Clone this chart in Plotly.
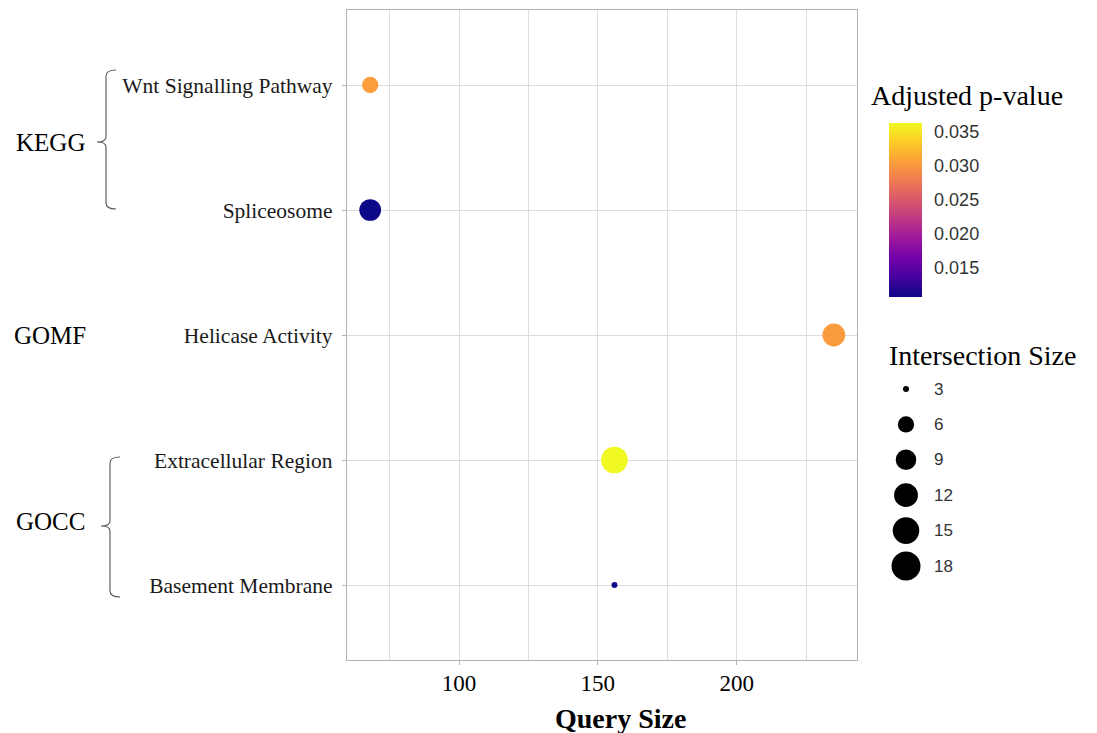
import numpy as np
import plotly.graph_objects as go

# ---- data -------------------------------------------------------------
terms = ["Wnt Signalling Pathway", "Spliceosome", "Helicase Activity",
         "Extracellular Region", "Basement Membrane"]
sources = ["KEGG", "KEGG", "GOMF", "GOCC", "GOCC"]
query_size = [68, 68, 235, 156, 156]
intersection_size = [6, 10, 11, 15, 3]
p_adjusted = [0.0305, 0.0106, 0.0303, 0.0363, 0.0107]

size_limits = [3, 18]
size_breaks = [3, 6, 9, 12, 15, 18]
p_ticks = [0.015, 0.020, 0.025, 0.030, 0.035]
x_ticks = [100, 150, 200]
x_minor = [75, 125, 175, 225]
group_labels = ["KEGG", "GOMF", "GOCC"]

# ---- page geometry (pixels, y downwards) ------------------------------
W, H = 1097, 733
P_LEFT, P_RIGHT, P_TOP, P_BOTTOM = 347, 857, 10, 660


def fx(px):
    return px / W


def fy(py):
    return 1 - py / H


SERIF = "Liberation Serif"
SANS = "Liberation Sans"
GRID = "#dcdcdc"
FRAME = "#b2b2b2"

# area-style size scale: diameter grows with sqrt of the rescaled count
D_MIN, D_SPAN = 6.0, 23.0


def diameter(n):
    t = (n - size_limits[0]) / (size_limits[1] - size_limits[0])
    return float(D_MIN + D_SPAN * np.sqrt(max(t, 0.0)))


x_lo, x_hi = min(query_size), max(query_size)
x_pad = 0.05 * (x_hi - x_lo)
p_lo, p_hi = min(p_adjusted), max(p_adjusted)

# colour bar box
CB_LEFT, CB_RIGHT, CB_TOP, CB_BOTTOM = 889, 922, 123, 297

fig = go.Figure()
fig.add_trace(go.Scatter(
    x=query_size,
    y=terms,
    mode="markers",
    marker=dict(
        size=[diameter(n) for n in intersection_size],
        color=p_adjusted,
        colorscale="Plasma",
        cmin=p_lo,
        cmax=p_hi,
        line=dict(width=0),
        opacity=1,
        showscale=True,
        colorbar=dict(
            x=fx(CB_LEFT), xanchor="left",
            y=fy((CB_TOP + CB_BOTTOM) / 2), yanchor="middle",
            lenmode="pixels", len=CB_BOTTOM - CB_TOP,
            thicknessmode="pixels", thickness=CB_RIGHT - CB_LEFT,
            xpad=0, ypad=0,
            outlinewidth=0,
            tickmode="array", tickvals=p_ticks,
            ticktext=[f"{v:.3f}" for v in p_ticks],
            ticks="outside", ticklen=9, tickwidth=1, tickcolor="rgba(0,0,0,0)",
            tickfont=dict(family=SANS, size=18, color="#333333"),
        ),
    ),
    hovertemplate="%{y}<br>Query size %{x}<extra></extra>",
    showlegend=False,
))

# white tick marks on both edges of the colour bar
shapes = []
for v in p_ticks:
    yy = CB_BOTTOM - (v - p_lo) / (p_hi - p_lo) * (CB_BOTTOM - CB_TOP)
    for a, b in [(CB_LEFT, CB_LEFT + 6), (CB_RIGHT - 6, CB_RIGHT)]:
        shapes.append(dict(type="line", xref="paper", yref="paper",
                           x0=fx(a), x1=fx(b), y0=fy(yy), y1=fy(yy),
                           line=dict(color="white", width=1.5), layer="above"))

# size legend keys
KEY_X, KEY_Y0, KEY_DY, LABEL_X = 906, 389, 35.4, 932
annotations = []
for i, n in enumerate(size_breaks):
    yy = KEY_Y0 + i * KEY_DY
    d = diameter(n)
    shapes.append(dict(type="circle", xref="paper", yref="paper",
                       xsizemode="pixel", ysizemode="pixel",
                       xanchor=fx(KEY_X), yanchor=fy(yy),
                       x0=-d / 2, x1=d / 2, y0=-d / 2, y1=d / 2,
                       fillcolor="black", line=dict(width=0)))
    annotations.append(dict(x=fx(LABEL_X), y=fy(yy), xref="paper", yref="paper",
                            text=str(n), showarrow=False, xanchor="left",
                            yanchor="middle",
                            font=dict(family=SANS, size=17, color="#333333")))


# curly group brackets on the left
def bracket(x, top, bot, mid, arm=10, nub=9):
    pts = [
        ("M", [(x + arm, top)]),
        ("Q", [(x, top), (x, top + 6)]),
        ("L", [(x, mid - 5)]),
        ("Q", [(x, mid), (x - nub, mid)]),
        ("Q", [(x, mid), (x, mid + 5)]),
        ("L", [(x, bot - 6)]),
        ("Q", [(x, bot), (x + arm, bot)]),
    ]
    s = ""
    for cmd, ps in pts:
        s += cmd + " " + " ".join(f"{fx(a):.5f},{fy(b):.5f}" for a, b in ps) + " "
    return dict(type="path", xref="paper", yref="paper", path=s.strip(),
                line=dict(color="#555555", width=1.1))


shapes.append(bracket(106, 70, 209, 142))
shapes.append(bracket(110, 457, 597, 526))

for label, yy in zip(group_labels, [142, 335, 521]):
    annotations.append(dict(x=fx(50), y=fy(yy), xref="paper", yref="paper",
                            text=label, showarrow=False, xanchor="center",
                            yanchor="middle",
                            font=dict(family=SERIF, size=25, color="black")))

# legend titles and x-axis title
annotations.append(dict(x=fx(869), y=fy(96), xref="paper", yref="paper",
                        text="Adjusted p-value", showarrow=False, xanchor="left",
                        yanchor="middle",
                        font=dict(family=SERIF, size=28, color="black")))
annotations.append(dict(x=fx(887), y=fy(356), xref="paper", yref="paper",
                        text="Intersection Size", showarrow=False, xanchor="left",
                        yanchor="middle",
                        font=dict(family=SERIF, size=28, color="black")))
annotations.append(dict(x=fx(620), y=fy(718), xref="paper", yref="paper",
                        text="<b>Query Size</b>", showarrow=False, xanchor="center",
                        yanchor="middle",
                        font=dict(family=SERIF, size=28, color="black")))

fig.update_layout(
    width=W, height=H,
    margin=dict(l=0, r=0, t=0, b=0, autoexpand=False),
    paper_bgcolor="white",
    plot_bgcolor="white",
    showlegend=False,
    shapes=shapes,
    annotations=annotations,
    xaxis=dict(
        domain=[fx(P_LEFT), fx(P_RIGHT)],
        range=[x_lo - x_pad, x_hi + x_pad],
        tickmode="array", tickvals=x_ticks,
        showgrid=True, gridcolor=GRID, gridwidth=1.4,
        minor=dict(tickmode="array", tickvals=x_minor, showgrid=True,
                   gridcolor=GRID, gridwidth=1.4, ticks=""),
        zeroline=False,
        showline=True, mirror=True, linecolor=FRAME, linewidth=1.4,
        ticks="outside", ticklen=4, tickwidth=1.2, tickcolor=FRAME,
        ticklabelstandoff=-2,
        tickfont=dict(family=SERIF, size=23, color="black"),
        automargin=False,
    ),
    yaxis=dict(
        domain=[fy(P_BOTTOM), fy(P_TOP)],
        type="category",
        categoryorder="array", categoryarray=terms[::-1],
        range=[-0.6, len(terms) - 0.4],
        showgrid=True, gridcolor=GRID, gridwidth=1.4,
        zeroline=False,
        showline=True, mirror=True, linecolor=FRAME, linewidth=1.4,
        ticks="outside", ticklen=4, tickwidth=1.2, tickcolor=FRAME,
        ticklabelstandoff=5,
        tickfont=dict(family=SERIF, size=21.5, color="#1a1a1a"),
        automargin=False,
    ),
)

fig.write_html("out.html")
